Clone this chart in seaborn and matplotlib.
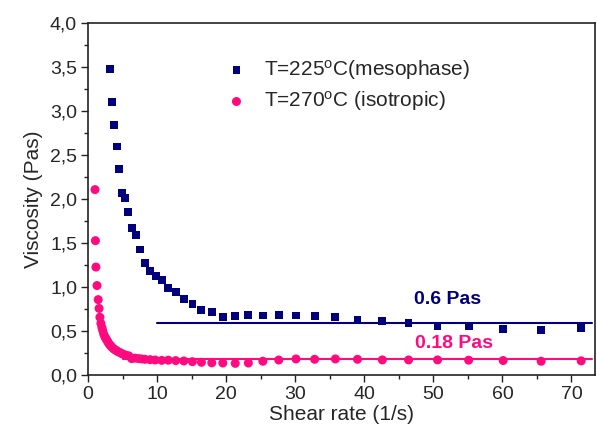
import numpy as np
import pandas as pd
import matplotlib
matplotlib.use("Agg")
import matplotlib.pyplot as plt
from matplotlib.ticker import MultipleLocator, FuncFormatter
import seaborn as sns

# mesophase, T=225 C
meso_rate = [3.16, 3.45, 3.74, 4.13, 4.46, 4.85, 5.33, 5.81, 6.30, 6.93, 7.51,
             8.23, 8.96, 9.83, 10.65, 11.6, 12.68, 13.88, 15.1, 16.4, 17.9,
             19.5, 21.3, 23.2, 25.3, 27.6, 30.1, 32.8, 35.8, 39.0, 42.6,
             46.4, 50.6, 55.1, 60.1, 65.6, 71.4]
meso_visc = [3.485, 3.11, 2.845, 2.60, 2.34, 2.07, 2.01, 1.86, 1.67, 1.59, 1.43,
             1.28, 1.185, 1.13, 1.08, 0.99, 0.95, 0.87, 0.81, 0.74, 0.72,
             0.667, 0.674, 0.69, 0.68, 0.69, 0.68, 0.674, 0.667, 0.628, 0.617,
             0.59, 0.56, 0.56, 0.526, 0.515, 0.534]

# isotropic, T=270 C
iso_rate = [0.99, 1.05, 1.12, 1.28, 1.45, 1.58, 1.70, 1.84, 1.98, 2.10, 2.25,
            2.40, 2.55, 2.70, 2.85, 3.00, 3.15, 3.30, 3.50, 3.70, 3.90, 4.10,
            4.30, 4.55, 4.80, 5.05, 5.30, 5.60, 5.90, 6.30, 6.80, 7.30, 7.75,
            8.23, 8.96, 9.70, 10.65, 11.6, 12.68, 13.85, 15.1, 16.4, 17.9,
            19.5, 21.3, 23.2, 25.3, 27.6, 30.1, 32.8, 35.8, 39.0, 42.6, 46.4,
            50.6, 55.1, 60.1, 65.6, 71.4]
iso_visc = [2.11, 1.53, 1.23, 1.02, 0.86, 0.76, 0.66, 0.59, 0.545, 0.51, 0.47,
            0.44, 0.42, 0.40, 0.38, 0.36, 0.345, 0.33, 0.315, 0.30, 0.29, 0.28,
            0.27, 0.26, 0.25, 0.24, 0.232, 0.225, 0.22, 0.19, 0.195, 0.19, 0.186,
            0.182, 0.178, 0.174, 0.17, 0.172, 0.167, 0.163, 0.155, 0.148, 0.142,
            0.14, 0.136, 0.14, 0.16, 0.174, 0.186, 0.182, 0.186, 0.182, 0.175, 0.175,
            0.175, 0.172, 0.168, 0.16, 0.164]

# plateau levels
meso_plateau_x = [10, 73]
meso_plateau = 0.6
iso_plateau_x = [5, 73]
iso_plateau = 0.18

navy = "#00007F"
pink = "#FF0A7F"

sns.set_style("ticks")
plt.rcParams["font.family"] = ["Liberation Sans", "DejaVu Sans"]
plt.rcParams["mathtext.default"] = "regular"

fig = plt.figure(figsize=(5.97, 4.32), dpi=100)
ax = fig.add_axes([0.1477, 0.1312, 0.8489, 0.815])

df_meso = pd.DataFrame({"rate": meso_rate, "visc": meso_visc})
df_iso = pd.DataFrame({"rate": iso_rate, "visc": iso_visc})

sns.lineplot(x=meso_plateau_x, y=[meso_plateau] * 2, color=navy, lw=1.5, ax=ax)
sns.lineplot(x=iso_plateau_x, y=[iso_plateau] * 2, color=pink, lw=1.5, ax=ax)

sns.scatterplot(data=df_meso, x="rate", y="visc", marker="s", s=32, color=navy,
                edgecolor="none", ax=ax, label=r"T=225$^{o}$C(mesophase)", zorder=3)
sns.scatterplot(data=df_iso, x="rate", y="visc", marker="o", s=42, color=pink,
                edgecolor="none", ax=ax, label=r"T=270$^{o}$C (isotropic)", zorder=3)

ax.text(52.0, 0.856, "0.6 Pas", color=navy, fontsize=14, fontweight="bold",
        ha="center", va="center")
ax.text(53.0, 0.364, "0.18 Pas", color=pink, fontsize=14, fontweight="bold",
        ha="center", va="center")

ax.set_xlim(0, 73.4)
ax.set_ylim(0, 4.0)
ax.xaxis.set_major_locator(MultipleLocator(10))
ax.xaxis.set_minor_locator(MultipleLocator(5))
ax.yaxis.set_major_locator(MultipleLocator(0.5))
ax.yaxis.set_minor_locator(MultipleLocator(0.25))
ax.yaxis.set_major_formatter(FuncFormatter(lambda v, p: f"{v:.1f}".replace(".", ",")))
ax.tick_params(which="major", direction="out", length=5, width=1, labelsize=14,
               color="#222222", pad=3)
ax.tick_params(which="minor", direction="out", length=3, width=1, color="#222222")
for side in ["top", "right", "left", "bottom"]:
    ax.spines[side].set_visible(True)
    ax.spines[side].set_linewidth(1.2)
    ax.spines[side].set_color("#222222")

ax.set_xlabel("Shear rate (1/s)", fontsize=15, labelpad=1)
ax.set_ylabel("Viscosity (Pas)", fontsize=15, labelpad=5)

ax.legend(loc="upper left", bbox_to_anchor=(0.235, 0.925), frameon=False,
          fontsize=15, handletextpad=0.3, labelspacing=0.35, borderaxespad=0)

fig.savefig("out.png", dpi=100)
